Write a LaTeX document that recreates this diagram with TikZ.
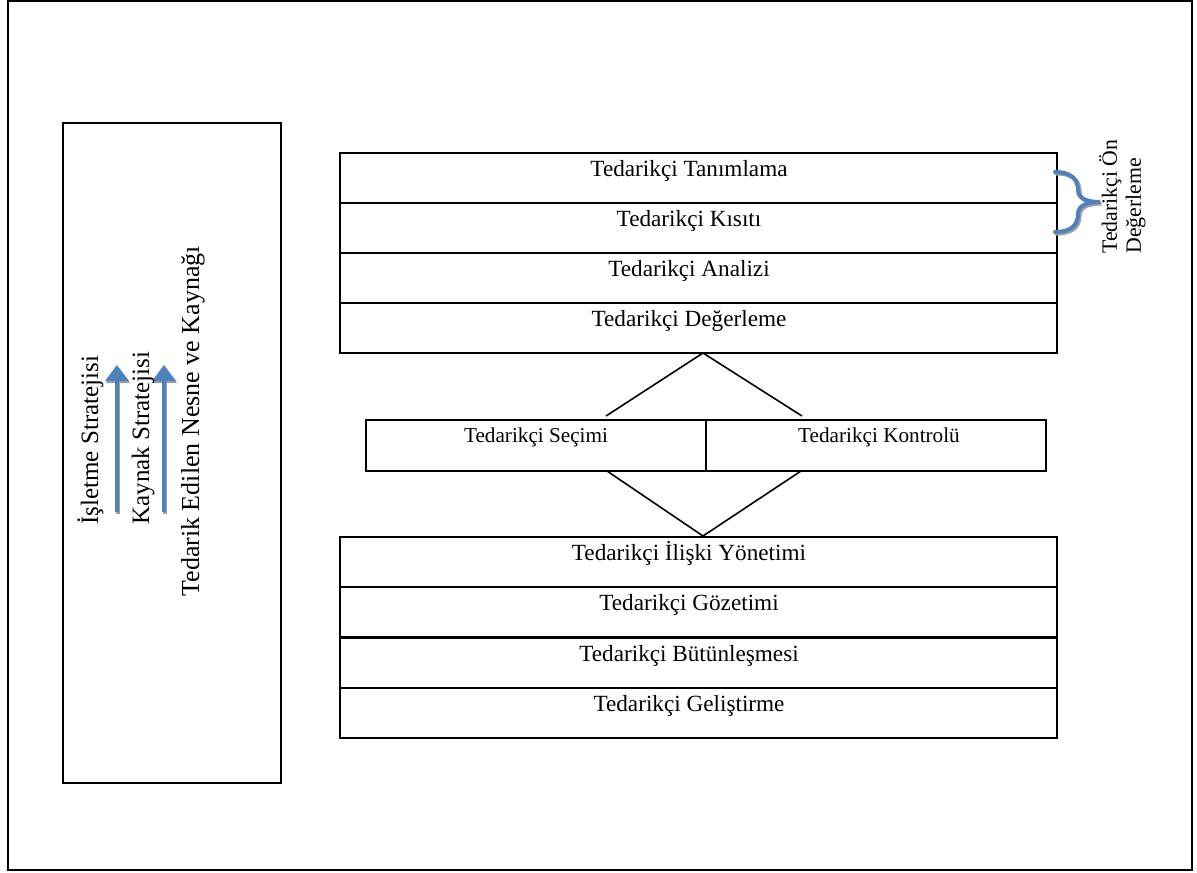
\documentclass[tikz,border=0pt]{standalone}
\usepackage{fontspec}
\setmainfont{Liberation Serif}
\usetikzlibrary{arrows.meta}
\definecolor{OfficeBlue}{RGB}{79,129,189}
\definecolor{ShadowGray}{RGB}{160,160,160}
\tikzstyle{FrameNode}=[rectangle, draw=black, line width=1.2pt, inner sep=0pt]
\tikzstyle{RowNode}=[rectangle, draw=black, line width=1pt, minimum width=358.5pt, minimum height=25pt, inner sep=0pt]
\tikzstyle{CellNode}=[RowNode, minimum width=170pt, minimum height=25.5pt]
\tikzstyle{RowText}=[anchor=base, inner sep=0pt, font=\fontsize{11.6}{13}\selectfont]
\tikzstyle{CellText}=[RowText, font=\fontsize{10.6}{12}\selectfont]
\tikzstyle{SideText}=[RowText, rotate=90, anchor=base west, font=\fontsize{12.5}{14}\selectfont]
\tikzstyle{NoteText}=[RowText, rotate=90, anchor=south west, align=left, font=\fontsize{10.9}{12}\selectfont]
\tikzstyle{LinkEdge}=[line width=0.8pt]
\tikzstyle{UpArrow}=[-{Triangle[width=11.5pt,length=8pt]}, line width=2.3pt, OfficeBlue]
\tikzstyle{UpShadow}=[UpArrow, ShadowGray]
\tikzstyle{BraceLine}=[line width=2pt, OfficeBlue, line cap=round]
\tikzstyle{BraceShadow}=[BraceLine, ShadowGray]

\begin{document}
\begin{tikzpicture}[x=0.5pt,y=-0.5pt]
\useasboundingbox (0,0) rectangle (1197,872);

\node[FrameNode, minimum width=592pt, minimum height=434.5pt](Frame) at (600,435.5) {};
\node[FrameNode, line width=1pt, minimum width=109pt, minimum height=330pt](LeftBox) at (172,453) {};

% left box
\coordinate (IsletmeFoot) at (117,512);
\coordinate (IsletmeHead) at (117,365);
\coordinate (KaynakFoot) at (164,512);
\coordinate (KaynakHead) at (164,365);

\draw[UpShadow]([shift={(1,2)}]IsletmeFoot) -- ([shift={(1,2)}]IsletmeHead);
\draw[UpShadow]([shift={(1,2)}]KaynakFoot) -- ([shift={(1,2)}]KaynakHead);
\draw[UpArrow](IsletmeFoot) -- (IsletmeHead);
\draw[UpArrow](KaynakFoot) -- (KaynakHead);

\node[SideText](IsletmeTxt) at (98,525) {İşletme Stratejisi};
\node[SideText](KaynakTxt) at (149,525) {Kaynak Stratejisi};
\node[SideText, font=\fontsize{13}{15}\selectfont](TedarikTxt) at (199,597) {Tedarik Edilen Nesne ve Kaynağı};

%%%%%%%%%%%%%%%%%%%%%%%%%%%%%%%%%%%%%%%%%

\node[RowNode](Tanim) at (698.5,178) {};
\node[RowNode](Kisit) at (698.5,228) {};
\node[RowNode](Analiz) at (698.5,278) {};
\node[RowNode](Degerl) at (698.5,328) {};

\node[RowText](TanimTxt) at (689,176) {Tedarikçi Tanımlama};
\node[RowText](KisitTxt) at (689,226) {Tedarikçi Kısıtı};
\node[RowText](AnalizTxt) at (689,276) {Tedarikçi Analizi};
\node[RowText](DegerlTxt) at (689,326) {Tedarikçi Değerleme};

\draw[BraceShadow, xshift=0.8pt, yshift=-0.8pt] (1055,172) .. controls (1072,172) and (1078,180) .. (1078,190) .. controls (1078,198) and (1086,202) .. (1100,202) .. controls (1086,202) and (1078,206) .. (1078,214) .. controls (1078,224) and (1072,232) .. (1055,232);
\draw[BraceLine] (1055,172) .. controls (1072,172) and (1078,180) .. (1078,190) .. controls (1078,198) and (1086,202) .. (1100,202) .. controls (1086,202) and (1078,206) .. (1078,214) .. controls (1078,224) and (1072,232) .. (1055,232);

\node[NoteText](OnDegerTxt) at (1146,254) {Tedarikçi Ön\\Değerleme};

%%%%%%%%%%%%%%%%%%%%%%%%%%%%%%%%%%%%%%%%%

\coordinate (TopApex) at (703,353);
\coordinate (SecimTop) at (606,416);
\coordinate (KontrolTop) at (802,416);

\draw[LinkEdge](TopApex) -- (SecimTop);
\draw[LinkEdge](TopApex) -- (KontrolTop);

\node[CellNode](Secim) at (536,445.5) {};
\node[CellNode](Kontrol) at (876,445.5) {};

\node[CellText](SecimTxt) at (536,442) {Tedarikçi Seçimi};
\node[CellText](KontrolTxt) at (879,442) {Tedarikçi Kontrolü};

\coordinate (SecimBot) at (607,471);
\coordinate (KontrolBot) at (801,471);
\coordinate (BottomApex) at (703,536);

\draw[LinkEdge](SecimBot) -- (BottomApex);
\draw[LinkEdge](KontrolBot) -- (BottomApex);

%%%%%%%%%%%%%%%%%%%%%%%%%%%%%%%%%%%%%%%%%

\node[RowNode](Iliski) at (698.5,562) {};
\node[RowNode](Gozetim) at (698.5,612) {};
\node[RowNode](Butun) at (698.5,663) {};
\node[RowNode](Gelis) at (698.5,713) {};

\node[RowText](IliskiTxt) at (689,560) {Tedarikçi İlişki Yönetimi};
\node[RowText](GozetimTxt) at (689,610) {Tedarikçi Gözetimi};
\node[RowText](ButunTxt) at (689,661) {Tedarikçi Bütünleşmesi};
\node[RowText](GelisTxt) at (689,711) {Tedarikçi Geliştirme};
\end{tikzpicture}
\end{document}
